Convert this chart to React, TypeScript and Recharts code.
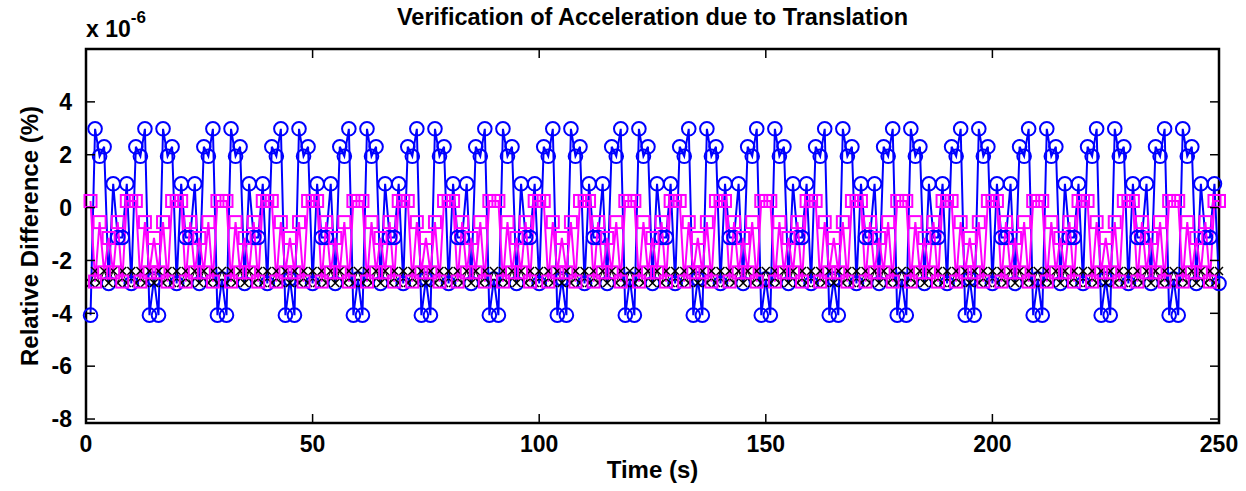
import React from 'react';
import { LineChart, Line, XAxis, YAxis, ReferenceArea } from 'recharts';

const FONT = '"Liberation Sans", Arial, Helvetica, sans-serif';

// sample times (s), one sample per second
const TIME: number[] = Array.from({ length: 250 }, (_, i) => i + 1);

const X_TICKS = [0, 50, 100, 150, 200, 250];
const Y_TICKS = [-8, -6, -4, -2, 0, 2, 4];

// relative differences in units of 1e-6 %, one row per 15 s
const BLUE_CIRCLES: number[] = [
  -4.07, 2.98, 1.94, 2.3, -2.87, 0.9, -1.13, -1.13, 0.9, -2.87, 2.3, 1.94, 2.98, -4.07, -2.7,
  -4.07, 2.98, 1.94, 2.3, -2.87, 0.9, -1.13, -1.13, 0.9, -2.87, 2.3, 1.94, 2.98, -4.07, -2.7,
  -4.07, 2.98, 1.94, 2.3, -2.87, 0.9, -1.13, -1.13, 0.9, -2.87, 2.3, 1.94, 2.98, -4.07, -2.7,
  -4.07, 2.98, 1.94, 2.3, -2.87, 0.9, -1.13, -1.13, 0.9, -2.87, 2.3, 1.94, 2.98, -4.07, -2.7,
  -4.07, 2.98, 1.94, 2.3, -2.87, 0.9, -1.13, -1.13, 0.9, -2.87, 2.3, 1.94, 2.98, -4.07, -2.7,
  -4.07, 2.98, 1.94, 2.3, -2.87, 0.9, -1.13, -1.13, 0.9, -2.87, 2.3, 1.94, 2.98, -4.07, -2.7,
  -4.07, 2.98, 1.94, 2.3, -2.87, 0.9, -1.13, -1.13, 0.9, -2.87, 2.3, 1.94, 2.98, -4.07, -2.7,
  -4.07, 2.98, 1.94, 2.3, -2.87, 0.9, -1.13, -1.13, 0.9, -2.87, 2.3, 1.94, 2.98, -4.07, -2.7,
  -4.07, 2.98, 1.94, 2.3, -2.87, 0.9, -1.13, -1.13, 0.9, -2.87, 2.3, 1.94, 2.98, -4.07, -2.7,
  -4.07, 2.98, 1.94, 2.3, -2.87, 0.9, -1.13, -1.13, 0.9, -2.87, 2.3, 1.94, 2.98, -4.07, -2.7,
  -4.07, 2.98, 1.94, 2.3, -2.87, 0.9, -1.13, -1.13, 0.9, -2.87, 2.3, 1.94, 2.98, -4.07, -2.7,
  -4.07, 2.98, 1.94, 2.3, -2.87, 0.9, -1.13, -1.13, 0.9, -2.87, 2.3, 1.94, 2.98, -4.07, -2.7,
  -4.07, 2.98, 1.94, 2.3, -2.87, 0.9, -1.13, -1.13, 0.9, -2.87, 2.3, 1.94, 2.98, -4.07, -2.7,
  -4.07, 2.98, 1.94, 2.3, -2.87, 0.9, -1.13, -1.13, 0.9, -2.87, 2.3, 1.94, 2.98, -4.07, -2.7,
  -4.07, 2.98, 1.94, 2.3, -2.87, 0.9, -1.13, -1.13, 0.9, -2.87, 2.3, 1.94, 2.98, -4.07, -2.7,
  -4.07, 2.98, 1.94, 2.3, -2.87, 0.9, -1.13, -1.13, 0.9, -2.87, 2.3, 1.94, 2.98, -4.07, -2.7,
  -4.07, 2.98, 1.94, 2.3, -2.87, 0.9, -1.13, -1.13, 0.9, -2.87,
];

// one row per 10 s
const MAGENTA_SQUARES: number[] = [
  0.25, -2.8, -0.55, -2.45, -1.15, -2.45, -0.55, -2.8, 0.25, 0.25,
  0.25, -2.8, -0.55, -2.45, -1.15, -2.45, -0.55, -2.8, 0.25, 0.25,
  0.25, -2.8, -0.55, -2.45, -1.15, -2.45, -0.55, -2.8, 0.25, 0.25,
  0.25, -2.8, -0.55, -2.45, -1.15, -2.45, -0.55, -2.8, 0.25, 0.25,
  0.25, -2.8, -0.55, -2.45, -1.15, -2.45, -0.55, -2.8, 0.25, 0.25,
  0.25, -2.8, -0.55, -2.45, -1.15, -2.45, -0.55, -2.8, 0.25, 0.25,
  0.25, -2.8, -0.55, -2.45, -1.15, -2.45, -0.55, -2.8, 0.25, 0.25,
  0.25, -2.8, -0.55, -2.45, -1.15, -2.45, -0.55, -2.8, 0.25, 0.25,
  0.25, -2.8, -0.55, -2.45, -1.15, -2.45, -0.55, -2.8, 0.25, 0.25,
  0.25, -2.8, -0.55, -2.45, -1.15, -2.45, -0.55, -2.8, 0.25, 0.25,
  0.25, -2.8, -0.55, -2.45, -1.15, -2.45, -0.55, -2.8, 0.25, 0.25,
  0.25, -2.8, -0.55, -2.45, -1.15, -2.45, -0.55, -2.8, 0.25, 0.25,
  0.25, -2.8, -0.55, -2.45, -1.15, -2.45, -0.55, -2.8, 0.25, 0.25,
  0.25, -2.8, -0.55, -2.45, -1.15, -2.45, -0.55, -2.8, 0.25, 0.25,
  0.25, -2.8, -0.55, -2.45, -1.15, -2.45, -0.55, -2.8, 0.25, 0.25,
  0.25, -2.8, -0.55, -2.45, -1.15, -2.45, -0.55, -2.8, 0.25, 0.25,
  0.25, -2.8, -0.55, -2.45, -1.15, -2.45, -0.55, -2.8, 0.25, 0.25,
  0.25, -2.8, -0.55, -2.45, -1.15, -2.45, -0.55, -2.8, 0.25, 0.25,
  0.25, -2.8, -0.55, -2.45, -1.15, -2.45, -0.55, -2.8, 0.25, 0.25,
  0.25, -2.8, -0.55, -2.45, -1.15, -2.45, -0.55, -2.8, 0.25, 0.25,
  0.25, -2.8, -0.55, -2.45, -1.15, -2.45, -0.55, -2.8, 0.25, 0.25,
  0.25, -2.8, -0.55, -2.45, -1.15, -2.45, -0.55, -2.8, 0.25, 0.25,
  0.25, -2.8, -0.55, -2.45, -1.15, -2.45, -0.55, -2.8, 0.25, 0.25,
  0.25, -2.8, -0.55, -2.45, -1.15, -2.45, -0.55, -2.8, 0.25, 0.25,
  0.25, -2.8, -0.55, -2.45, -1.15, -2.45, -0.55, -2.8, 0.25, 0.25,
];

const BLACK_CROSSES: number[] = [
  -2.85, -2.4, -2.85, -2.4, -2.85, -2.4, -2.85, -2.4, -2.85, -2.4,
  -2.85, -2.4, -2.85, -2.4, -2.85, -2.4, -2.85, -2.4, -2.85, -2.4,
  -2.85, -2.4, -2.85, -2.4, -2.85, -2.4, -2.85, -2.4, -2.85, -2.4,
  -2.85, -2.4, -2.85, -2.4, -2.85, -2.4, -2.85, -2.4, -2.85, -2.4,
  -2.85, -2.4, -2.85, -2.4, -2.85, -2.4, -2.85, -2.4, -2.85, -2.4,
  -2.85, -2.4, -2.85, -2.4, -2.85, -2.4, -2.85, -2.4, -2.85, -2.4,
  -2.85, -2.4, -2.85, -2.4, -2.85, -2.4, -2.85, -2.4, -2.85, -2.4,
  -2.85, -2.4, -2.85, -2.4, -2.85, -2.4, -2.85, -2.4, -2.85, -2.4,
  -2.85, -2.4, -2.85, -2.4, -2.85, -2.4, -2.85, -2.4, -2.85, -2.4,
  -2.85, -2.4, -2.85, -2.4, -2.85, -2.4, -2.85, -2.4, -2.85, -2.4,
  -2.85, -2.4, -2.85, -2.4, -2.85, -2.4, -2.85, -2.4, -2.85, -2.4,
  -2.85, -2.4, -2.85, -2.4, -2.85, -2.4, -2.85, -2.4, -2.85, -2.4,
  -2.85, -2.4, -2.85, -2.4, -2.85, -2.4, -2.85, -2.4, -2.85, -2.4,
  -2.85, -2.4, -2.85, -2.4, -2.85, -2.4, -2.85, -2.4, -2.85, -2.4,
  -2.85, -2.4, -2.85, -2.4, -2.85, -2.4, -2.85, -2.4, -2.85, -2.4,
  -2.85, -2.4, -2.85, -2.4, -2.85, -2.4, -2.85, -2.4, -2.85, -2.4,
  -2.85, -2.4, -2.85, -2.4, -2.85, -2.4, -2.85, -2.4, -2.85, -2.4,
  -2.85, -2.4, -2.85, -2.4, -2.85, -2.4, -2.85, -2.4, -2.85, -2.4,
  -2.85, -2.4, -2.85, -2.4, -2.85, -2.4, -2.85, -2.4, -2.85, -2.4,
  -2.85, -2.4, -2.85, -2.4, -2.85, -2.4, -2.85, -2.4, -2.85, -2.4,
  -2.85, -2.4, -2.85, -2.4, -2.85, -2.4, -2.85, -2.4, -2.85, -2.4,
  -2.85, -2.4, -2.85, -2.4, -2.85, -2.4, -2.85, -2.4, -2.85, -2.4,
  -2.85, -2.4, -2.85, -2.4, -2.85, -2.4, -2.85, -2.4, -2.85, -2.4,
  -2.85, -2.4, -2.85, -2.4, -2.85, -2.4, -2.85, -2.4, -2.85, -2.4,
  -2.85, -2.4, -2.85, -2.4, -2.85, -2.4, -2.85, -2.4, -2.85, -2.4,
];

const data = TIME.map((t, i) => ({
  t,
  blue: BLUE_CIRCLES[i],
  magenta: MAGENTA_SQUARES[i],
  black: BLACK_CROSSES[i],
}));

// plot box
const W = 1246;
const H = 491;
const LEFT = 86;
const RIGHT = 1219;
const TOP = 49;
const BOTTOM = 423;
const PLOT_W = RIGHT - LEFT;
const PLOT_H = BOTTOM - TOP;
const TICK_LEN = 9;
const Y_MIN = -8.15;
const Y_MAX = 6;

const textStyle = { fontFamily: FONT, fontWeight: 'bold' as const, fill: '#000' };

const YTick = (props: any) => {
  const { x, y, payload } = props;
  const ax = x + 14;
  return (
    <g>
      <line x1={ax} y1={y} x2={ax + TICK_LEN} y2={y} stroke="#000" strokeWidth={1.5} />
      <line x1={ax + PLOT_W} y1={y} x2={ax + PLOT_W - TICK_LEN} y2={y} stroke="#000" strokeWidth={1.5} />
      <text x={x} y={y} dy="0.36em" textAnchor="end" fontSize={23} {...textStyle}>
        {payload.value}
      </text>
    </g>
  );
};

const XTick = (props: any) => {
  const { x, y, payload } = props;
  const ay = y - 12;
  return (
    <g>
      <line x1={x} y1={ay} x2={x} y2={ay - TICK_LEN} stroke="#000" strokeWidth={1.5} />
      <line x1={x} y1={ay - PLOT_H} x2={x} y2={ay - PLOT_H + TICK_LEN} stroke="#000" strokeWidth={1.5} />
      <text x={x} y={y} dy="0.75em" textAnchor="middle" fontSize={23} {...textStyle}>
        {payload.value}
      </text>
    </g>
  );
};

const CircleDot = (props: any) => {
  const { cx, cy, index } = props;
  if (cx == null || cy == null) return <g key={index} />;
  return <circle key={index} cx={cx} cy={cy} r={6.8} fill="none" stroke="#0000ff" strokeWidth={2} />;
};

const SquareDot = (props: any) => {
  const { cx, cy, index } = props;
  if (cx == null || cy == null) return <g key={index} />;
  return (
    <rect key={index} x={cx - 6} y={cy - 6} width={12} height={12} fill="none" stroke="#ff00ff" strokeWidth={2} />
  );
};

const CrossDot = (props: any) => {
  const { cx, cy, index } = props;
  if (cx == null || cy == null) return <g key={index} />;
  const s = 4;
  return (
    <path
      key={index}
      d={`M${cx - s},${cy - s}L${cx + s},${cy + s}M${cx - s},${cy + s}L${cx + s},${cy - s}`}
      stroke="#000"
      strokeWidth={1.5}
      fill="none"
    />
  );
};

export default function App() {
  return (
    <div style={{ position: 'absolute', left: 0, top: 0, width: W, height: H, background: '#fff' }}>
      <LineChart
        width={W}
        height={H}
        data={data}
        margin={{ top: TOP, right: W - RIGHT, bottom: H - BOTTOM - 60, left: LEFT - 80 }}
      >
        <XAxis
          dataKey="t"
          type="number"
          domain={[0, 250]}
          ticks={X_TICKS}
          height={60}
          axisLine={false}
          tickLine={false}
          tickSize={0}
          tickMargin={12}
          tick={<XTick />}
          interval={0}
        />
        <YAxis
          type="number"
          domain={[Y_MIN, Y_MAX]}
          ticks={Y_TICKS}
          width={80}
          axisLine={false}
          tickLine={false}
          tickSize={0}
          tickMargin={14}
          tick={<YTick />}
          interval={0}
          allowDataOverflow
        />
        <Line
          dataKey="blue"
          stroke="#0000ff"
          strokeWidth={2}
          dot={CircleDot}
          activeDot={false}
          isAnimationActive={false}
        />
        <Line
          dataKey="black"
          stroke="#000"
          strokeWidth={1}
          dot={CrossDot}
          activeDot={false}
          isAnimationActive={false}
        />
        <Line
          dataKey="magenta"
          stroke="#ff00ff"
          strokeWidth={2}
          dot={SquareDot}
          activeDot={false}
          isAnimationActive={false}
        />
        <ReferenceArea
          x1={0}
          x2={250}
          y1={Y_MIN}
          y2={Y_MAX}
          fill="none"
          stroke="#000"
          strokeWidth={2.5}
          ifOverflow="visible"
        />
      </LineChart>

      <div
        style={{
          position: 'absolute',
          left: LEFT,
          width: PLOT_W,
          top: 3,
          textAlign: 'center',
          fontFamily: FONT,
          fontWeight: 'bold',
          fontSize: 23.5,
          lineHeight: '28px',
        }}
      >
        Verification of Acceleration due to Translation
      </div>

      <div
        style={{
          position: 'absolute',
          left: LEFT,
          top: 16,
          fontFamily: FONT,
          fontWeight: 'bold',
          fontSize: 23,
          lineHeight: '26px',
          whiteSpace: 'nowrap',
        }}
      >
        x 10<sup style={{ fontSize: 17, verticalAlign: 'top', position: 'relative', top: -11 }}>-6</sup>
      </div>

      <div
        style={{
          position: 'absolute',
          left: LEFT,
          width: PLOT_W,
          top: 455,
          textAlign: 'center',
          fontFamily: FONT,
          fontWeight: 'bold',
          fontSize: 24,
          lineHeight: '30px',
        }}
      >
        Time (s)
      </div>

      <div
        style={{
          position: 'absolute',
          left: 30,
          top: (TOP + BOTTOM) / 2,
          transform: 'translate(-50%, -50%) rotate(-90deg)',
          fontFamily: FONT,
          fontWeight: 'bold',
          fontSize: 24,
          lineHeight: '30px',
          whiteSpace: 'nowrap',
        }}
      >
        Relative Difference (%)
      </div>
    </div>
  );
}
